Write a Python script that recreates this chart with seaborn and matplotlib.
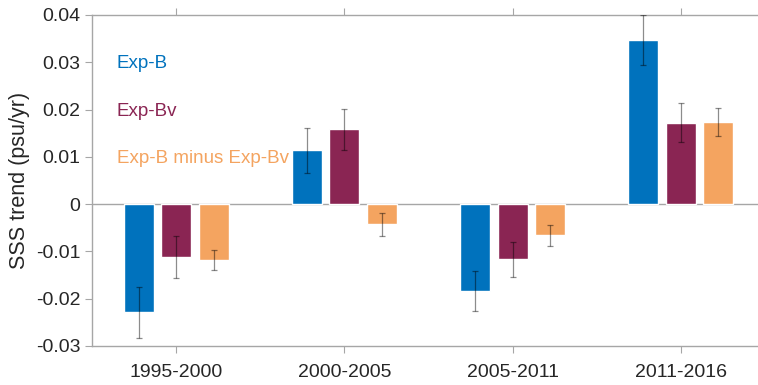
import numpy as np
import pandas as pd
import matplotlib
matplotlib.use("Agg")
import matplotlib.pyplot as plt
import seaborn as sns

# Periods and experiment labels
periods = ["1995-2000", "2000-2005", "2005-2011", "2011-2016"]
experiments = ["Exp-B", "Exp-Bv", "Exp-B minus Exp-Bv"]

# SSS trends (psu/yr) and their uncertainty (half-width of the error bar)
trend_exp_b = [-0.0229, 0.0114, -0.0183, 0.0347]
trend_exp_bv = [-0.0112, 0.0158, -0.0117, 0.0172]
trend_diff = [-0.0118, -0.0043, -0.0066, 0.0174]
err_exp_b = [0.0054, 0.0048, 0.0042, 0.0052]
err_exp_bv = [0.0045, 0.0044, 0.0037, 0.0041]
err_diff = [0.0022, 0.0024, 0.0022, 0.0029]

colors = ["#0072BD", "#8A2553", "#F4A460"]

trends = [trend_exp_b, trend_exp_bv, trend_diff]
errs = [err_exp_b, err_exp_bv, err_diff]
df = pd.DataFrame({
    "period": periods * 3,
    "experiment": [e for e in experiments for _ in periods],
    "trend": sum(trends, []),
    "err": sum(errs, []),
})

sns.set_theme(style="white")
plt.rcParams["font.family"] = ["Liberation Sans", "DejaVu Sans"]

fig = plt.figure(figsize=(7.58, 3.85), dpi=100)
ax = fig.add_axes([92 / 758, 1 - 346 / 385, (765 - 92) / 758, (346 - 15) / 385])

sns.barplot(data=df, x="period", y="trend", hue="experiment",
            order=periods, hue_order=experiments, palette=colors,
            width=0.668, gap=0.2, errorbar=None, saturation=1,
            legend=False, ax=ax, zorder=2)

# Error bars centred on each bar
for container, exp in zip(ax.containers, experiments):
    sub = df[df["experiment"] == exp].set_index("period").loc[periods]
    xs = [p.get_x() + p.get_width() / 2 for p in container.patches]
    ax.errorbar(xs, sub["trend"].values, yerr=sub["err"].values, fmt="none",
                ecolor="black", alpha=0.45, elinewidth=0.9, capsize=2.5,
                capthick=0.9, zorder=3)

spine_col = "#A6A6A6"
ax.axhline(0, color=spine_col, lw=1.0, zorder=1)

ax.set_xlim(-0.5, 3.5)
ax.set_ylim(-0.03, 0.04)
ax.set_yticks(np.arange(-0.03, 0.0401, 0.01))
ax.set_yticklabels(["-0.03", "-0.02", "-0.01", "0", "0.01", "0.02", "0.03", "0.04"])
ax.set_xlabel("")
ax.set_ylabel("SSS trend (psu/yr)", fontsize=15.5, color="#262626", labelpad=4)

for side in ["left", "bottom", "top"]:
    ax.spines[side].set_color(spine_col)
    ax.spines[side].set_linewidth(1.0)
ax.spines["right"].set_visible(False)

ax.tick_params(axis="both", direction="out", length=5, width=0.8,
               color=spine_col, labelsize=14, labelcolor="#262626")
ax.tick_params(axis="x", top=True, bottom=True, labeltop=False, pad=8)
ax.tick_params(axis="y", left=True, pad=3.5)

# Series labels written in their bar colours
label_y = [0.0297, 0.0196, 0.0096]
for name, col, y in zip(experiments, colors, label_y):
    ax.text(-0.352, y, name, color=col, fontsize=13.5, va="center", ha="left")

fig.savefig("out.png", dpi=100)
